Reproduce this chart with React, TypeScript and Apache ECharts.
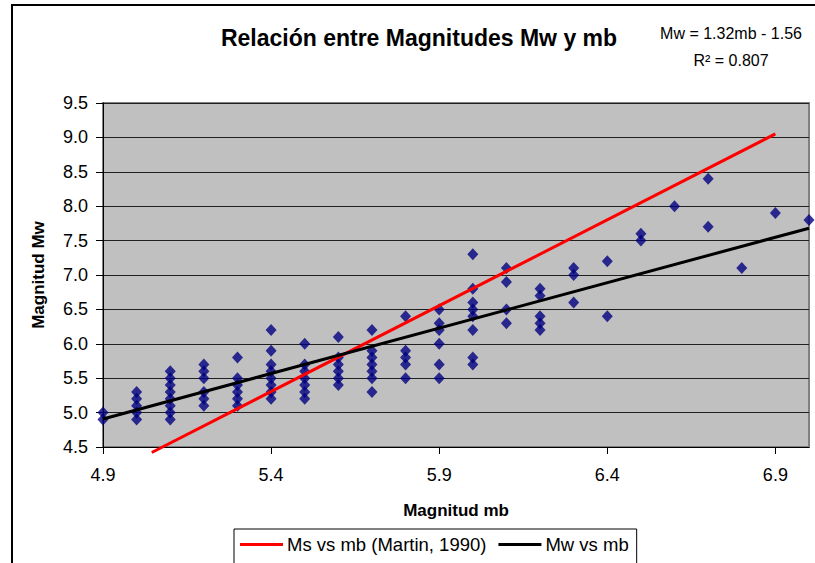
import React, { useEffect, useRef } from "react";
import * as echarts from "echarts";

const FONT = "'Liberation Sans', Arial, sans-serif";

// Scatter data: mb columns and Mw values observed in each column
const mbColumns = [4.9, 5.0, 5.1, 5.2, 5.3, 5.4, 5.5, 5.6, 5.7, 5.8, 5.9, 6.0, 6.1, 6.2, 6.3, 6.4, 6.5, 6.6, 6.7, 6.8, 6.9, 7.0];
const mwByColumn = [
  [5.0, 4.9],
  [5.3, 5.2, 5.1, 5.0, 4.9],
  [5.6, 5.5, 5.4, 5.3, 5.2, 5.1, 5.0, 4.9],
  [5.7, 5.6, 5.5, 5.3, 5.2, 5.1],
  [5.8, 5.5, 5.4, 5.3, 5.2, 5.1],
  [6.2, 5.9, 5.7, 5.6, 5.5, 5.4, 5.3, 5.2],
  [6.0, 5.7, 5.6, 5.5, 5.4, 5.3, 5.2],
  [6.1, 5.8, 5.7, 5.6, 5.5, 5.4],
  [6.2, 5.9, 5.8, 5.7, 5.6, 5.5, 5.3],
  [6.4, 5.9, 5.8, 5.7, 5.5],
  [6.5, 6.3, 6.2, 6.0, 5.7, 5.5],
  [7.3, 6.8, 6.6, 6.5, 6.4, 6.2, 5.8, 5.7],
  [7.1, 6.9, 6.5, 6.3],
  [6.8, 6.7, 6.4, 6.3, 6.2],
  [7.1, 7.0, 6.6],
  [7.2, 6.4],
  [7.6, 7.5],
  [8.0],
  [8.4, 7.7],
  [7.1],
  [7.9],
  [7.8],
];

// Trendline Mw = 1.32 mb - 1.56, drawn over the data range
const trendSlope = 1.32;
const trendIntercept = -1.56;
const trendR2 = 0.807;
const trendMb = [4.9, 7.0];

// Martin (1990) Ms vs mb line endpoints
const martinMb = [5.045, 6.9];
const martinMs = [4.42, 9.05];

const xTicks = [4.9, 5.4, 5.9, 6.4, 6.9];

const SERIES_MARTIN = "Ms vs mb (Martin, 1990)";
const SERIES_MW = "Mw vs mb";

export default function App() {
  const ref = useRef<HTMLDivElement>(null);

  useEffect(() => {
    if (!ref.current) return;
    const chart = echarts.init(ref.current, undefined, { renderer: "svg" });

    const scatterData: number[][] = [];
    mbColumns.forEach((mb, i) => {
      mwByColumn[i].forEach((mw) => scatterData.push([mb, mw]));
    });
    const trendData = trendMb.map((mb) => [mb, +(trendSlope * mb + trendIntercept).toFixed(4)]);
    const martinData = martinMb.map((mb, i) => [mb, martinMs[i]]);

    chart.setOption({
      animation: false,
      backgroundColor: "#ffffff",
      title: {
        text: "Relación entre Magnitudes Mw y mb",
        left: 414,
        top: 21,
        textAlign: "center",
        textStyle: { fontFamily: FONT, fontSize: 23, fontWeight: "bold", color: "#000" },
      },
      graphic: [
        {
          type: "rect",
          shape: { x: 12, y: 5, width: 900, height: 700 },
          style: { fill: "none", stroke: "#000", lineWidth: 2 },
          silent: true,
        },
        {
          type: "text",
          x: 731,
          y: 33,
          style: {
            text: `Mw = ${trendSlope}mb - ${Math.abs(trendIntercept)}`,
            fontFamily: FONT,
            fontSize: 16,
            fill: "#000",
            align: "center",
            verticalAlign: "middle",
          },
        },
        {
          type: "text",
          x: 731,
          y: 60,
          style: {
            text: `R² = ${trendR2}`,
            fontFamily: FONT,
            fontSize: 16,
            fill: "#000",
            align: "center",
            verticalAlign: "middle",
          },
        },
      ],
      legend: {
        data: [
          { name: SERIES_MARTIN, icon: "rect" },
          { name: SERIES_MW, icon: "rect" },
        ],
        left: 234,
        top: 529,
        itemWidth: 43,
        itemHeight: 3,
        itemGap: 12,
        padding: [6, 8, 20, 6],
        borderColor: "#000",
        borderWidth: 1,
        backgroundColor: "#fff",
        textStyle: { fontFamily: FONT, fontSize: 18.5, color: "#000", padding: [0, 0, 0, -1] },
      },
      grid: {
        left: 103,
        top: 103,
        right: 6,
        bottom: 116,
        show: true,
        backgroundColor: "#C0C0C0",
        borderColor: "#808080",
        borderWidth: 2,
      },
      xAxis: {
        type: "value",
        min: 4.9,
        max: 7.0,
        interval: 0.5,
        name: "Magnitud mb",
        nameLocation: "middle",
        nameGap: 55,
        nameTextStyle: { fontFamily: FONT, fontSize: 17, fontWeight: "bold", color: "#000" },
        axisLine: { show: true, lineStyle: { color: "#000", width: 1 } },
        axisTick: { show: true, length: 7, customValues: xTicks, lineStyle: { color: "#000" } },
        axisLabel: {
          customValues: xTicks,
          margin: 19,
          fontFamily: FONT,
          fontSize: 18,
          color: "#000",
          formatter: (v: number) => v.toFixed(1),
        },
        splitLine: { show: false },
      },
      yAxis: {
        type: "value",
        min: 4.5,
        max: 9.5,
        interval: 0.5,
        name: "Magnitud Mw",
        nameLocation: "middle",
        nameRotate: 90,
        nameGap: 56,
        nameTextStyle: { fontFamily: FONT, fontSize: 17, fontWeight: "bold", color: "#000" },
        axisLine: { show: true, lineStyle: { color: "#000", width: 1 } },
        axisTick: { show: true, length: 7, lineStyle: { color: "#000" } },
        axisLabel: {
          margin: 15,
          fontFamily: FONT,
          fontSize: 18,
          color: "#000",
          formatter: (v: number) => v.toFixed(1),
        },
        splitLine: { show: true, lineStyle: { color: "#202020", width: 1 } },
      },
      series: [
        {
          name: "Datos",
          type: "scatter",
          data: scatterData,
          symbol: "diamond",
          symbolSize: [11, 12],
          itemStyle: { color: "#000080" },
          z: 3,
        },
        {
          name: SERIES_MARTIN,
          type: "line",
          data: martinData,
          showSymbol: false,
          symbol: "none",
          clip: false,
          lineStyle: { color: "#FF0000", width: 3 },
          itemStyle: { color: "#FF0000" },
          z: 4,
        },
        {
          name: SERIES_MW,
          type: "line",
          data: trendData,
          showSymbol: false,
          symbol: "none",
          lineStyle: { color: "#000000", width: 3 },
          itemStyle: { color: "#000000" },
          z: 4,
        },
      ],
    });

    return () => chart.dispose();
  }, []);

  return (
    <div
      ref={ref}
      style={{ position: "fixed", left: 0, top: 0, width: 815, height: 563 }}
    />
  );
}
